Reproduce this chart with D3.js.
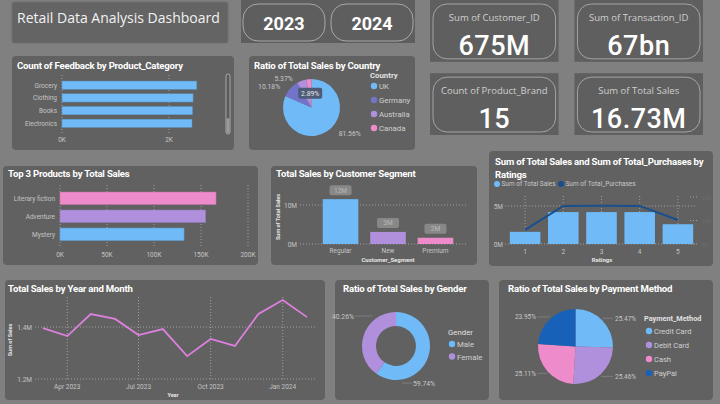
<!DOCTYPE html>
<html><head><meta charset="utf-8">
<script src="https://cdn.jsdelivr.net/npm/d3@7"></script>
<style>html,body{margin:0;padding:0;background:#808080;overflow:hidden}</style>
</head><body>
<script>
// ---------- DATA ----------
const yearButtons = ["2023", "2024"];
const kpiLabels = ["Sum of Customer_ID", "Sum of Transaction_ID", "Count of Product_Brand", "Sum of Total Sales"];
const kpiValues = ["675M", "67bn", "15", "16.73M"];

const feedbackCategories = ["Grocery", "Clothing", "Books", "Electronics"];
const feedbackCounts = [2520, 2450, 2440, 2430];
const feedbackTicks = [0, 2000];

const countries = ["UK", "Germany", "Australia", "Canada"];
const countryShare = [81.56, 10.18, 5.37, 2.89];

const topProducts = ["Literary fiction", "Adventure", "Mystery"];
const topProductSales = [166000, 155000, 132000];
const topProductTicks = [0, 50000, 100000, 150000, 200000];

const segments = ["Regular", "New", "Premium"];
const segmentSales = [11.5e6, 3.1e6, 1.6e6];
const segmentTicks = [0, 10e6];

const ratings = [1, 2, 3, 4, 5];
const ratingSales = [1.6e6, 4.2e6, 4.2e6, 4.2e6, 2.6e6];
const ratingPurchases = [6000, 16200, 16300, 16200, 10200];
const ratingSalesTicks = [0, 5e6];
const ratingPurchaseTicks = [0, 10000, 20000];

const months = ["2023-03", "2023-04", "2023-05", "2023-06", "2023-07", "2023-08", "2023-09", "2023-10", "2023-11", "2023-12", "2024-01", "2024-02"];
const monthSales = [1.396e6, 1.365e6, 1.45e6, 1.431e6, 1.369e6, 1.392e6, 1.288e6, 1.354e6, 1.327e6, 1.45e6, 1.504e6, 1.438e6];
const monthTicks = ["2023-04", "2023-07", "2023-10", "2024-01"];
const monthSalesTicks = [1.2e6, 1.4e6];

const genders = ["Male", "Female"];
const genderShare = [59.74, 40.26];

const paymentMethods = ["Credit Card", "Debit Card", "Cash", "PayPal"];
const paymentShare = [25.47, 25.46, 25.11, 23.95];

// ---------- STYLE ----------
const BG = "#808080", PANEL = "#616161";
const BLUE = "#6fbaf7", LAV = "#b090dc", PINK = "#ee8bca", SLATE = "#7373c9", NAVY = "#1762b8", DNAVY = "#174f8f", ORCHID = "#dd80de";
const AX = "#c4c4c4", GRID = "#a0a0a0";
const FONT = "Roboto, 'DejaVu Sans', sans-serif";
const UIFONT = "'Open Sans', 'Noto Sans', sans-serif";

const svg = d3.select("body").append("svg").attr("width", 720).attr("height", 404)
  .style("font-family", FONT);
svg.append("rect").attr("width", 720).attr("height", 404).attr("fill", BG);

function panel(x, y, w, h, fill, rx) {
  return svg.append("rect").attr("x", x).attr("y", y).attr("width", w).attr("height", h)
    .attr("rx", rx == null ? 4 : rx).attr("fill", fill || PANEL);
}
function txt(x, y, s, o) {
  o = o || {};
  const t = svg.append("text").attr("x", x).attr("y", y).text(s)
    .attr("font-size", o.size || 7).attr("fill", o.fill || AX)
    .attr("font-weight", o.weight || "normal").attr("text-anchor", o.anchor || "start");
  if (o.family) t.attr("font-family", o.family);
  if (o.ls) t.attr("letter-spacing", o.ls);
  if (o.rotate) t.attr("transform", `rotate(${o.rotate},${x},${y})`);
  return t;
}
function title(x, y, s) { return txt(x, y, s, {size: 9.6, fill: "#ffffff", weight: "bold", ls: -0.2}); }
function hgrid(x1, x2, y) {
  svg.append("line").attr("x1", x1).attr("x2", x2).attr("y1", y).attr("y2", y)
    .attr("stroke", GRID).attr("stroke-width", 1).attr("stroke-dasharray", "1,2");
}
function vgrid(x, y1, y2) {
  svg.append("line").attr("x1", x).attr("x2", x).attr("y1", y1).attr("y2", y2)
    .attr("stroke", GRID).attr("stroke-width", 1).attr("stroke-dasharray", "1,2");
}
function dot(x, y, r, c) { svg.append("circle").attr("cx", x).attr("cy", y).attr("r", r).attr("fill", c); }

// ---------- HEADER ----------
panel(12, 2, 216, 41, "#646464", 2).attr("stroke", "#6e6e6e");
txt(17, 23, "Retail Data Analysis Dashboard", {size: 14, fill: "#f2f2f2", family: UIFONT});

panel(241, 0, 174, 43, "#5e5e5e", 0);
const yb = d3.scaleBand().domain(yearButtons).range([243, 413]).paddingInner(0.07);
yearButtons.forEach(yr => {
  svg.append("rect").attr("x", yb(yr)).attr("y", 4).attr("width", yb.bandwidth()).attr("height", 37)
    .attr("rx", 15).attr("fill", "none").attr("stroke", "#a8a8a8").attr("stroke-width", 1);
  txt(yb(yr) + yb.bandwidth() / 2, 30, yr, {size: 18, fill: "#ffffff", weight: "bold", anchor: "middle"});
});

// ---------- KPI CARDS ----------
const kpiX = d3.scaleBand().domain([0, 1]).range([430, 703]).paddingInner(0.11);
const kpiY = d3.scaleBand().domain([0, 1]).range([0, 135]).paddingInner(0.155);
kpiLabels.forEach((lab, i) => {
  const cx = i % 2, cy = Math.floor(i / 2);
  const x = kpiX(cx), y = kpiY(cy), w = kpiX.bandwidth(), h = kpiY.bandwidth();
  panel(x, y, w, h, "#5f5f5f", 0);
  svg.append("rect").attr("x", x + 3).attr("y", y + 4).attr("width", w - 6).attr("height", h - 7)
    .attr("rx", 14).attr("fill", "none").attr("stroke", "#a4a4a4").attr("stroke-width", 1);
  txt(x + w / 2, y + 21, lab, {size: 9.5, fill: "#cfcfcf", anchor: "middle", family: UIFONT});
  txt(x + w / 2, y + 55, kpiValues[i], {size: 27, fill: "#ffffff", weight: 500, anchor: "middle", ls: 0.5});
});

// ---------- FEEDBACK BAR ----------
panel(12, 56, 222, 94);
title(17, 69, "Count of Feedback by Product_Category");
{
  const x = d3.scaleLinear().domain([0, 2000]).range([62, 169]);
  const y = d3.scaleBand().domain(feedbackCategories).range([78.5, 130]).paddingInner(0.35).paddingOuter(0.2);
  feedbackTicks.forEach(t => { vgrid(x(t), 75, 133); txt(x(t), 142, d3.format(".0f")(t / 1000) + "K", {size: 6.5, anchor: "middle"}); });
  feedbackCategories.forEach((c, i) => {
    svg.append("rect").attr("x", x(0)).attr("y", y(c)).attr("width", x(feedbackCounts[i]) - x(0))
      .attr("height", y.bandwidth()).attr("fill", BLUE).attr("stroke", "#5a8fc0").attr("stroke-width", 0.5);
    txt(57, y(c) + y.bandwidth() / 2 + 2.5, c, {size: 6.5, anchor: "end"});
  });
  svg.append("rect").attr("x", 226).attr("y", 74).attr("width", 4).attr("height", 60).attr("rx", 2)
    .attr("fill", "#5a5a5a").attr("stroke", "#bdbdbd").attr("stroke-width", 0.8);
  svg.append("rect").attr("x", 226.5).attr("y", 118).attr("width", 3).attr("height", 15).attr("rx", 1.5).attr("fill", "#9a9a9a");
}

// ---------- COUNTRY PIE ----------
panel(249, 56, 166, 94);
title(254, 69, "Ratio of Total Sales by Country");
{
  const cx = 311.5, cy = 107.5, r = 28.5;
  const colors = [BLUE, SLATE, LAV, PINK];
  const pie = d3.pie().sort(null).value(d => d)(countryShare);
  const arc = d3.arc().innerRadius(0).outerRadius(r);
  const g = svg.append("g").attr("transform", `translate(${cx},${cy})`);
  g.selectAll("path").data(pie).join("path").attr("d", arc).attr("fill", (d, i) => colors[i]);
  pie.forEach((d, i) => {
    const a = (d.startAngle + d.endAngle) / 2;
    if (i === 3) {
      const px = cx + r * 0.5 * Math.sin(a), py = cy - r * 0.5 * Math.cos(a);
      svg.append("rect").attr("x", px - 12).attr("y", py - 5.5).attr("width", 24).attr("height", 11)
        .attr("rx", 2).attr("fill", "#4d5b77");
      txt(px, py + 2.5, countryShare[i].toFixed(2) + "%", {size: 6.8, fill: "#e6e6e6", anchor: "middle"});
      return;
    }
    const px = cx + r * 1.1 * Math.sin(a), py = cy - r * 1.1 * Math.cos(a);
    const right = Math.sin(a) > 0;
    txt(px + (right ? 10 : -8), py + 2.5, countryShare[i].toFixed(2) + "%", {size: 6.8, fill: "#c8c8c8", anchor: right ? "start" : "end"});
  });
  txt(370, 78, "Country", {size: 7.8, fill: "#e0e0e0", weight: "bold"});
  countries.forEach((c, i) => {
    dot(374, 86 + i * 14, 3.2, colors[i]);
    txt(379, 89 + i * 14, c, {size: 7.8, fill: "#d0d0d0"});
  });
}

// ---------- TOP 3 PRODUCTS ----------
panel(3, 166, 255, 99);
title(8, 177, "Top 3 Products by Total Sales");
{
  const x = d3.scaleLinear().domain([0, 200000]).range([60, 248]);
  const y = d3.scaleBand().domain(topProducts).range([188.4, 244.2]).paddingInner(0.3).paddingOuter(0.2);
  const colors = [PINK, LAV, BLUE];
  topProductTicks.forEach(t => { vgrid(x(t), 185, 247); txt(x(t), 257, d3.format(".0f")(t / 1000) + "K", {size: 6.5, anchor: "middle"}); });
  topProducts.forEach((p, i) => {
    svg.append("rect").attr("x", x(0)).attr("y", y(p)).attr("width", x(topProductSales[i]) - x(0))
      .attr("height", y.bandwidth()).attr("fill", colors[i]).attr("stroke", d3.color(colors[i]).darker(0.6)).attr("stroke-width", 0.5);
    txt(55, y(p) + y.bandwidth() / 2 + 2.5, p, {size: 6.5, anchor: "end"});
  });
}

// ---------- CUSTOMER SEGMENT ----------
panel(271, 166, 206, 99);
title(276, 177, "Total Sales by Customer Segment");
{
  const x = d3.scaleBand().domain(segments).range([318, 458]).paddingInner(0.25).paddingOuter(0.1);
  const y = d3.scaleLinear().domain([0, 1e7]).range([244, 205]);
  const colors = [BLUE, LAV, PINK];
  segmentTicks.forEach(t => { hgrid(300, 468, y(t)); txt(297, y(t) + 2.5, d3.format(".0f")(t / 1e6) + "M", {size: 6.5, anchor: "end"}); });
  segments.forEach((s, i) => {
    const top = y(segmentSales[i]);
    svg.append("rect").attr("x", x(s)).attr("y", top).attr("width", x.bandwidth()).attr("height", y(0) - top)
      .attr("fill", colors[i]);
    const lbl = d3.format(".0f")(segmentSales[i] / 1e6) + "M";
    const cxm = x(s) + x.bandwidth() / 2;
    svg.append("rect").attr("x", cxm - 11).attr("y", top - 14).attr("width", 22).attr("height", 10).attr("rx", 2).attr("fill", "#888888");
    txt(cxm, top - 6.5, lbl, {size: 6.5, fill: "#b8b8b8", anchor: "middle"});
    txt(cxm, 253, s, {size: 6.5, anchor: "middle"});
  });
  txt(388, 261.5, "Customer_Segment", {size: 6, fill: "#e6e6e6", weight: "bold", anchor: "middle"});
  txt(280, 217, "Sum of Total Sales", {size: 5.5, fill: "#e6e6e6", weight: "bold", anchor: "middle", rotate: -90});
}

// ---------- RATINGS COMBO ----------
panel(489, 151, 224, 115);
title(495, 165, "Sum of Total Sales and Sum of Total_Purchases by");
title(495, 178, "Ratings");
{
  dot(497, 184, 3, BLUE);
  txt(501.5, 186.3, "Sum of Total Sales", {size: 6.5, fill: "#c8c8c8"});
  dot(561, 184, 3, DNAVY);
  txt(565.5, 186.3, "Sum of Total_Purchases", {size: 6.5, fill: "#c8c8c8"});
  const x = d3.scaleBand().domain(ratings).range([506, 697]).paddingInner(0.2).paddingOuter(0.1);
  const y = d3.scaleLinear().domain([0, 5e6]).range([244, 206]);
  const y2 = d3.scaleLinear().domain([0, 20000]).range([244, 197]);
  ratings.forEach(r => vgrid(x(r) + x.bandwidth() / 2, 196, 244));
  ratingSalesTicks.forEach(t => { hgrid(505, 697, y(t)); txt(503, y(t) + 2.5, d3.format(".0f")(t / 1e6) + "M", {size: 6.5, anchor: "end"}); });
  ratingPurchaseTicks.forEach(t => { hgrid(690, 697, y2(t)); txt(701, y2(t) + 2.5, d3.format(".0f")(t / 1000) + "K", {size: 6, fill: "#6c6c6c"}); });
  ratings.forEach((r, i) => {
    svg.append("rect").attr("x", x(r)).attr("y", y(ratingSales[i])).attr("width", x.bandwidth())
      .attr("height", y(0) - y(ratingSales[i])).attr("fill", BLUE);
    txt(x(r) + x.bandwidth() / 2, 254, String(r), {size: 6.5, anchor: "middle"});
  });
  const line = d3.line().x((d, i) => x(ratings[i]) + x.bandwidth() / 2).y(d => y2(d));
  svg.append("path").attr("d", line(ratingPurchases)).attr("fill", "none").attr("stroke", DNAVY).attr("stroke-width", 2);
  txt(602, 262, "Ratings", {size: 6, fill: "#e6e6e6", weight: "bold", anchor: "middle"});
}

// ---------- SALES BY MONTH ----------
panel(5, 280, 320, 120);
title(8, 292, "Total Sales by Year and Month");
{
  const parse = d3.timeParse("%Y-%m");
  const dates = months.map(parse);
  const x = d3.scaleTime().domain([dates[0], dates[dates.length - 1]]).range([43, 307]);
  const y = d3.scaleLinear().domain([1.2e6, 1.4e6]).range([379, 327]);
  monthSalesTicks.forEach(t => { hgrid(35, 315, y(t)); txt(32, y(t) + 2.5, d3.format(".1f")(t / 1e6) + "M", {size: 6.5, anchor: "end"}); });
  monthTicks.map(parse).forEach(d => { vgrid(x(d), 297, 379); txt(x(d), 389, d3.timeFormat("%b %Y")(d), {size: 6.5, anchor: "middle"}); });
  const line = d3.line().x((d, i) => x(dates[i])).y(d => y(d));
  svg.append("path").attr("d", line(monthSales)).attr("fill", "none").attr("stroke", ORCHID).attr("stroke-width", 1.8);
  txt(173, 397, "Year", {size: 5.5, fill: "#e6e6e6", weight: "bold", anchor: "middle"});
  txt(12, 340, "Sum of Sales", {size: 5.5, fill: "#e6e6e6", weight: "bold", anchor: "middle", rotate: -90});
}

// ---------- GENDER DONUT ----------
panel(335, 280, 154, 120);
title(343, 292, "Ratio of Total Sales by Gender");
{
  const cx = 396, cy = 346, r = 34;
  const colors = [BLUE, LAV];
  const pie = d3.pie().sort(null).value(d => d)(genderShare);
  const arc = d3.arc().innerRadius(20).outerRadius(r);
  svg.append("g").attr("transform", `translate(${cx},${cy})`).selectAll("path").data(pie).join("path")
    .attr("d", arc).attr("fill", (d, i) => colors[i]);
  svg.append("line").attr("x1", cx + 6).attr("x2", cx + 16).attr("y1", cy + r + 3).attr("y2", cy + r + 3).attr("stroke", "#8a8a8a").attr("stroke-width", 0.7);
  txt(cx + 17, cy + r + 5.5, genderShare[0].toFixed(2) + "%", {size: 6.8, fill: "#c8c8c8"});
  svg.append("line").attr("x1", cx - r - 7).attr("x2", cx - 24).attr("y1", cy - r + 4).attr("y2", cy - r + 4).attr("stroke", "#8a8a8a").attr("stroke-width", 0.7);
  txt(cx - r - 8, cy - r + 6.5, genderShare[1].toFixed(2) + "%", {size: 6.8, fill: "#c8c8c8", anchor: "end"});
  txt(448, 335, "Gender", {size: 7.8, fill: "#e0e0e0"});
  genders.forEach((gd, i) => {
    dot(452, 344 + i * 12.5, 3.2, colors[i]);
    txt(457, 347 + i * 12.5, gd, {size: 7.8, fill: "#d0d0d0"});
  });
}

// ---------- PAYMENT PIE ----------
panel(499, 280, 214, 120);
title(508, 292, "Ratio of Total Sales by Payment Method");
{
  const cx = 575.5, cy = 346.5, r = 37.5;
  const colors = [BLUE, LAV, PINK, NAVY];
  const pie = d3.pie().sort(null).value(d => d)(paymentShare);
  const arc = d3.arc().innerRadius(0).outerRadius(r);
  svg.append("g").attr("transform", `translate(${cx},${cy})`).selectAll("path").data(pie).join("path")
    .attr("d", arc).attr("fill", (d, i) => colors[i]);
  pie.forEach((d, i) => {
    const a = (d.startAngle + d.endAngle) / 2;
    const right = Math.sin(a) > 0;
    const ex = cx + r * Math.sin(a), py = cy - r * 1.08 * Math.cos(a);
    const lx = right ? cx + r + 2 : cx - r - 2;
    svg.append("line").attr("x1", ex + (right ? 0 : 0)).attr("x2", lx + (right ? -2 : 1)).attr("y1", py).attr("y2", py)
      .attr("stroke", "#8a8a8a").attr("stroke-width", 0.7);
    txt(lx, py + 2.5, paymentShare[i].toFixed(2) + "%", {size: 6.5, fill: "#c8c8c8", anchor: right ? "start" : "end"});
  });
  txt(644, 321, "Payment_Method", {size: 7.3, fill: "#e0e0e0", weight: "bold"});
  paymentMethods.forEach((p, i) => {
    dot(649, 331 + i * 14, 3.2, colors[i]);
    txt(654, 334 + i * 14, p, {size: 7.5, fill: "#d0d0d0"});
  });
}
</script>
</body></html>
